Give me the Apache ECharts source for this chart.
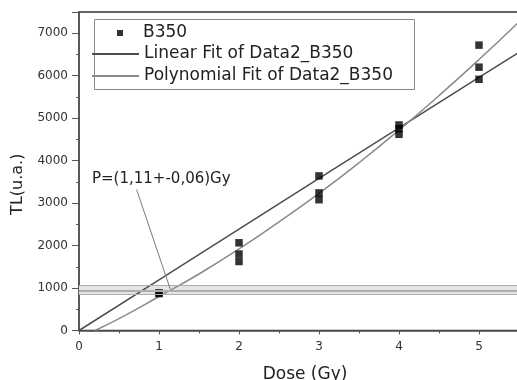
<!DOCTYPE html>
<html>
<head>
<meta charset="utf-8">
<script src="https://cdn.jsdelivr.net/npm/echarts@6/dist/echarts.min.js"></script>
<style>html,body{margin:0;padding:0;background:#fff;}#c{width:517px;height:380px;}</style>
</head>
<body>
<div id="c"></div>
<script>
// Measured data (B350)
const doseValues = [1, 1, 2, 2, 2, 3, 3, 3, 4, 4, 4, 5, 5, 5];
const tlValues = [870, 885, 2065, 1800, 1625, 3640, 3240, 3080, 4840, 4750, 4620, 6720, 6200, 5915];
// Linear fit
const linearX = [0, 1, 2, 3, 4, 5, 5.5];
const linearY = [0, 1190, 2385, 3580, 4770, 5960, 6550];
// Polynomial fit
const polyX = [0.2, 0.5, 1, 1.5, 2, 2.5, 3, 3.5, 4, 4.5, 5, 5.5];
const polyY = [0, 280, 800, 1330, 1920, 2560, 3230, 3950, 4720, 5530, 6380, 7270];
// Horizontal band levels and the arrow
const bandLow = 840, bandHigh = 1070;
const bandLines = [1065, 955, 915, 845];
const arrowFrom = [1.14, 980], arrowTo = [0.72, 3320];
const annotation = 'P=(1,11+-0,06)Gy';
const xTicks = [0, 1, 2, 3, 4, 5];
const yTicks = [0, 1000, 2000, 3000, 4000, 5000, 6000, 7000];

const FONT = '"DejaVu Sans", "Liberation Sans", sans-serif';
const chart = echarts.init(document.getElementById('c'));
const pairs = (xs, ys) => xs.map((x, i) => [x, ys[i]]);

chart.setOption({
  animation: false,
  backgroundColor: '#fff',
  grid: { left: 79, top: 12, width: 440, height: 318.5, show: true, borderColor: '#333', borderWidth: 1.5,
    containLabel: false, outerBoundsMode: 'none' },
  xAxis: {
    type: 'value', min: 0, max: 5.5, interval: 1,
    name: 'Dose (Gy)', nameLocation: 'middle', nameGap: 35.5,
    nameTextStyle: { fontFamily: FONT, fontSize: 17, color: '#222', padding: [0, 0, 0, 12] },
    axisLine: { lineStyle: { color: '#555', width: 1.5 } },
    axisTick: { inside: false, length: 4, lineStyle: { color: '#555' } },
    minorTick: { show: true, splitNumber: 2, length: 3, lineStyle: { color: '#555' } },
    axisLabel: { fontFamily: FONT, fontSize: 12, color: '#333', margin: 10,
      formatter: v => xTicks.includes(v) ? String(v) : '' },
    splitLine: { show: false }
  },
  yAxis: {
    type: 'value', min: 0, max: 7500, interval: 1000,
    name: 'TL(u.a.)', nameLocation: 'middle', nameGap: 53, nameRotate: 90,
    nameTextStyle: { fontFamily: FONT, fontSize: 16, color: '#222', padding: [0, 26, 0, 0] },
    axisLine: { lineStyle: { color: '#555', width: 1.5 } },
    axisTick: { inside: false, length: 7, lineStyle: { color: '#555' } },
    minorTick: { show: true, splitNumber: 2, length: 3, lineStyle: { color: '#555' } },
    axisLabel: { fontFamily: FONT, fontSize: 12, color: '#333', margin: 11,
      formatter: v => yTicks.includes(v) ? String(v) : '' },
    splitLine: { show: false }
  },
  legend: [
    { data: ['B350'], left: 117, top: 24, padding: 0, icon: 'rect', itemWidth: 6, itemHeight: 6,
      selectedMode: false,
      textStyle: { fontFamily: FONT, fontSize: 17, lineHeight: 18, color: '#222', padding: [0, 0, 0, 15] } },
    { data: ['Linear Fit of Data2_B350', 'Polynomial Fit of Data2_B350'], orient: 'vertical',
      left: 91, top: 45, padding: 0, itemWidth: 47, itemHeight: 14, itemGap: 4, selectedMode: false,
      itemStyle: { color: 'rgba(0,0,0,0)', borderWidth: 0, opacity: 0 },
      textStyle: { fontFamily: FONT, fontSize: 17, lineHeight: 18, color: '#222' } }
  ],
  graphic: [
    { type: 'rect', z: 3, shape: { x: 94.5, y: 19.5, width: 320, height: 70 },
      style: { fill: '#fff', stroke: '#888', lineWidth: 1 } },
    { type: 'text', left: 92, top: 172, z: 5,
      style: { text: annotation, font: '15px ' + FONT, fill: '#222' } }
  ],
  series: [
    {
      name: 'band', type: 'line', data: [], silent: true,
      markArea: { silent: true, itemStyle: { color: '#e4e4e4' },
        data: [[{ yAxis: bandLow }, { yAxis: bandHigh }]] },
      markLine: { silent: true, symbol: ['none', 'none'], label: { show: false },
        lineStyle: { color: '#aeaeae', width: 1, type: 'solid' },
        data: bandLines.map(v => ({ yAxis: v })) }
    },
    {
      name: 'Linear Fit of Data2_B350', type: 'line', symbol: 'none', z: 3,
      data: pairs(linearX, linearY),
      lineStyle: { color: '#4d4d4d', width: 1.5 }, itemStyle: { color: '#4d4d4d' }
    },
    {
      name: 'Polynomial Fit of Data2_B350', type: 'line', symbol: 'none', smooth: true, z: 3,
      data: pairs(polyX, polyY),
      lineStyle: { color: '#8a8a8a', width: 1.5 }, itemStyle: { color: '#8a8a8a' }
    },
    {
      name: 'arrow', type: 'line', data: [], silent: true,
      markLine: { silent: true, symbol: ['none', 'arrow'], symbolSize: [0, 9], label: { show: false },
        lineStyle: { color: '#7a7a7a', width: 1, type: 'solid' },
        data: [[{ coord: arrowFrom }, { coord: arrowTo }]] }
    },
    {
      name: 'B350', type: 'scatter', symbol: 'rect', symbolSize: 7.5, z: 4,
      data: pairs(doseValues, tlValues),
      itemStyle: { color: '#000' }
    }
  ]
});
</script>
</body>
</html>
